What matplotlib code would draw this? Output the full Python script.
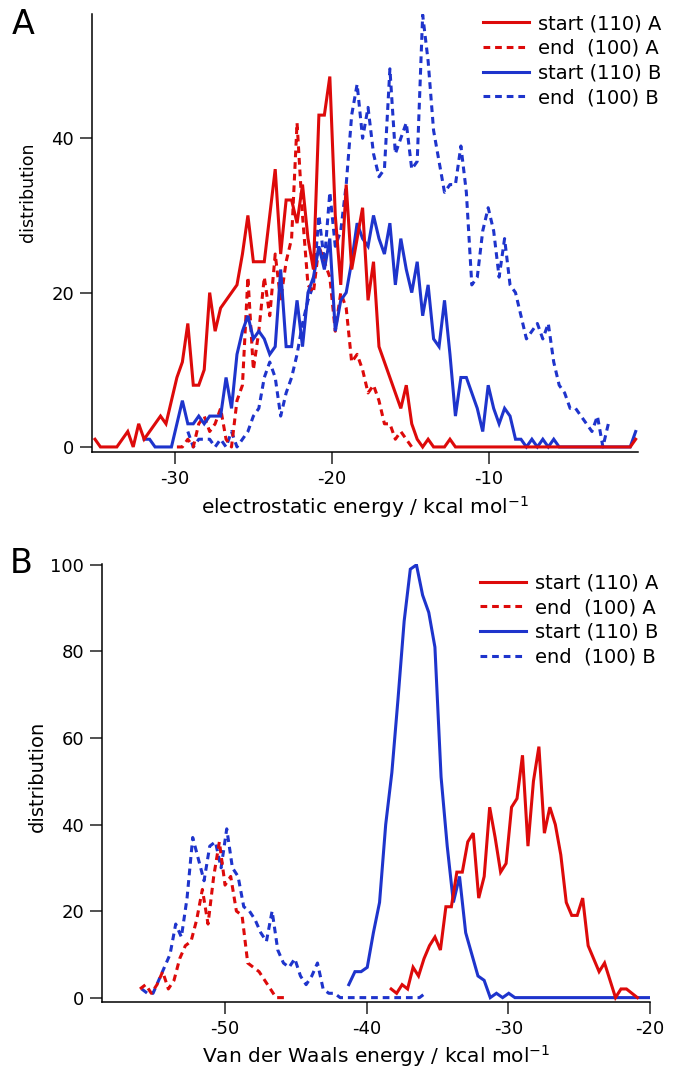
import matplotlib
matplotlib.use("Agg")
import matplotlib.pyplot as plt
import numpy as np

plt.rcParams["font.family"] = ["DejaVu Sans"]
plt.rcParams["axes.unicode_minus"] = False

RED = "#dd0a0a"
BLUE = "#1e34cc"

labels = ["start (110) A", "end  (100) A", "start (110) B", "end  (100) B"]

# panel A: electrostatic energy histograms (common bins)
elec_bin0 = -35.1
elec_width = 0.348

elec_first = [0, 15, 9, 17]   # first bin of each series
elec_start_A = [1, 0, 0, 0, 0, 1, 2, 0, 3, 1,
                2, 3, 4, 3, 6, 9, 11, 16, 8, 8,
                10, 20, 15, 18, 19, 20, 21, 25, 30, 24,
                24, 24, 30, 36, 25, 32, 32, 29, 34, 27,
                23, 43, 43, 48, 30, 21, 34, 23, 27, 31,
                19, 24, 13, 11, 9, 7, 5, 8, 3, 1,
                0, 1, 0, 0, 0, 1, 0, 0, 0, 0,
                0, 0, 0, 0, 0, 0, 0, 0, 0, 0,
                0, 0, 0, 0, 0, 0, 0, 0, 0, 0,
                0, 0, 0, 0, 0, 0, 0, 0, 0, 1]
elec_end_A = [0, 0, 1, 0, 3, 4, 2, 3, 5, 1,
              0, 6, 8, 22, 10, 15, 22, 17, 25, 19,
              24, 27, 42, 30, 21, 20, 26, 24, 22, 15,
              20, 18, 11, 12, 10, 7, 8, 6, 3, 3,
              1, 2, 1, 0]
elec_start_B = [1, 1, 0, 0, 0, 0, 3, 6, 3, 3, 4,
                3, 4, 4, 4, 9, 5, 12, 15, 17, 14,
                15, 14, 12, 13, 23, 13, 13, 19, 13, 20,
                22, 26, 23, 27, 15, 19, 20, 24, 29, 27,
                26, 30, 27, 25, 29, 21, 27, 23, 20, 24,
                17, 21, 14, 13, 19, 12, 4, 9, 9, 7,
                5, 2, 8, 5, 3, 5, 4, 1, 1, 0,
                1, 0, 1, 0, 1, 0, 0, 0, 0, 0,
                0, 0, 0, 0, 0, 0, 0, 0, 0, 2]
elec_end_B = [2, 0, 1, 1, 1, 0, 1, 0, 2, 0,
              1, 2, 4, 5, 9, 11, 9, 4, 7, 9,
              12, 16, 19, 21, 30, 24, 33, 26, 28, 34,
              43, 47, 40, 44, 38, 35, 36, 49, 38, 40,
              42, 36, 37, 56, 50, 41, 37, 33, 34, 34,
              39, 33, 21, 22, 28, 31, 28, 22, 27, 21,
              20, 17, 14, 15, 16, 14, 16, 11, 8, 7,
              5, 5, 4, 3, 2, 4, 0, 3]

# panel B: van der Waals energy histograms (own bins per series)
vdw_bin0 = [-38.26, -55.98, -41.25, -55.86]
vdw_width = [0.386, 0.4, 0.434, 0.4]
vdw_start_A = [2, 1, 3, 2, 7, 5, 9, 12, 14, 11,
               21, 21, 29, 29, 36, 38, 23, 28, 44, 37,
               29, 31, 44, 46, 56, 35, 50, 58, 38, 44,
               40, 33, 22, 19, 19, 23, 12, 9, 6, 8,
               4, 0, 2, 2, 1, 0]
vdw_end_A = [2, 3, 1, 3, 6, 2, 4, 9, 12, 13,
             18, 25, 17, 28, 36, 26, 28, 20, 19, 8,
             7, 6, 4, 2, 0, 0, 0]
vdw_start_B = [3, 6, 6, 7, 15, 22, 40, 52, 69, 87,
               99, 100, 93, 89, 81, 51, 35, 22, 28, 15,
               10, 5, 4, 0, 1, 0, 1, 0, 0, 0,
               0, 0, 0, 0, 0, 0, 0, 0, 0, 0,
               0, 0, 0, 0, 0, 0, 0, 0, 0, 0]
vdw_end_B = [2, 1, 1, 4, 7, 10, 17, 14, 23, 37,
             32, 27, 35, 36, 30, 39, 30, 28, 21, 20,
             18, 15, 13, 20, 11, 8, 7, 9, 5, 3,
             5, 8, 2, 1, 1, 0, 0, 0, 0, 0,
             0, 0, 0, 0, 0, 0, 0, 0, 0, 0, 1]

colors = [RED, RED, BLUE, BLUE]
dashed = (0, (2.2, 1.6))
styles = ["-", dashed, "-", dashed]
zorders = [4, 2, 3, 1]

fig = plt.figure(figsize=(6.8, 10.7), dpi=100)
axA = fig.add_axes([0.1353, 0.5776, 0.8029, 0.4093])
axB = fig.add_axes([0.15, 0.0636, 0.8059, 0.4093])


def style_axis(ax):
    for side in ["top", "right"]:
        ax.spines[side].set_visible(False)
    for side in ["left", "bottom"]:
        ax.spines[side].set_linewidth(1.1)
    ax.tick_params(direction="out", length=8.5, width=1.1, pad=4.5,
                   labelsize=13, color="#222222")


handles = []
seriesA = [elec_start_A, elec_end_A, elec_start_B, elec_end_B]
for vals, first, c, ls, z in zip(seriesA, elec_first, colors, styles, zorders):
    x = elec_bin0 + elec_width * (first + np.arange(len(vals)))
    h, = axA.plot(x, vals, color=c, linestyle=ls, lw=2.2, zorder=z,
                  dash_capstyle="butt", solid_joinstyle="miter")
    handles.append(h)

seriesB = [vdw_start_A, vdw_end_A, vdw_start_B, vdw_end_B]
for vals, x0, w, c, ls, z in zip(seriesB, vdw_bin0, vdw_width, colors, styles, zorders):
    x = x0 + w * np.arange(len(vals))
    axB.plot(x, vals, color=c, linestyle=ls, lw=2.2, zorder=z,
             dash_capstyle="butt", solid_joinstyle="miter")

style_axis(axA)
axA.set_xlim(-35.29, -0.5)
axA.set_ylim(-0.65, 56.1)
axA.set_xticks([-30, -20, -10])
axA.set_yticks([0, 20, 40])
axA.set_xlabel("electrostatic energy / kcal mol$^{-1}$", fontsize=14.5)
axA.set_ylabel("distribution", fontsize=12.5)
axA.xaxis.set_label_coords(0.5, -0.097)
axA.yaxis.set_label_coords(-0.10, 0.594)

style_axis(axB)
axB.set_xlim(-58.66, -20)
axB.set_ylim(-1.0, 100.2)
axB.set_xticks([-50, -40, -30, -20])
axB.set_yticks([0, 20, 40, 60, 80, 100])
axB.set_xlabel("Van der Waals energy / kcal mol$^{-1}$", fontsize=14.5)
axB.set_ylabel("distribution", fontsize=14)
axB.xaxis.set_label_coords(0.5, -0.095)
axB.yaxis.set_label_coords(-0.10, 0.514)

leg_kw = dict(loc="upper left", frameon=False, fontsize=14, borderpad=0,
              borderaxespad=0, handlelength=2.35, handletextpad=0.5,
              labelspacing=0.29, bbox_transform=fig.transFigure)
axA.legend(handles, labels, bbox_to_anchor=(0.7103, 0.9868), **leg_kw)
axB.legend(handles, labels, bbox_to_anchor=(0.7059, 0.4640), **leg_kw)

fig.text(23 / 680, 1 - 25 / 1070, "A", fontsize=24, ha="center", va="center")
fig.text(21 / 680, 1 - 563.5 / 1070, "B", fontsize=24, ha="center", va="center")

fig.savefig("out.png", dpi=100)
